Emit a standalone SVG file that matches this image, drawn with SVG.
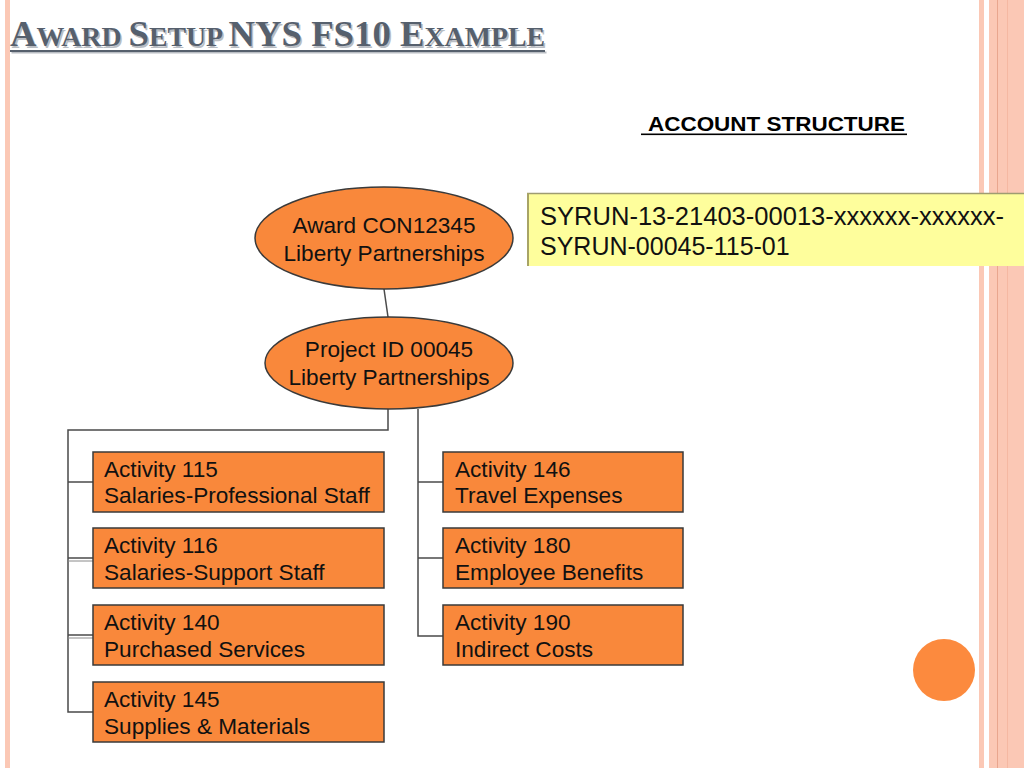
<svg xmlns="http://www.w3.org/2000/svg" width="1024" height="768" viewBox="0 0 1024 768">
<style>
.node{fill:#F9883B;stroke:#3a3a3a;stroke-width:1.5}
.lbl{font-family:"Liberation Sans",Arial,sans-serif;font-size:22.6px;fill:#111}
.con{fill:none;stroke:#4a4a4a;stroke-width:1.5}
.ttl{font-family:"Liberation Serif","Times New Roman",serif;font-weight:bold}
.pink{fill:#FBC8B5}
</style>
<rect width="1024" height="768" fill="#ffffff"/>
<!-- left stripe -->
<rect x="5" y="0" width="5" height="768" class="pink"/>
<!-- right stripes -->
<rect x="979" y="0" width="5" height="768" class="pink"/>
<rect x="989" y="0" width="35" height="768" class="pink"/>
<line x1="997.5" y1="0" x2="997.5" y2="768" stroke="#E9A68E" stroke-width="1"/>
<line x1="1007.5" y1="0" x2="1007.5" y2="768" stroke="#F5B8A2" stroke-width="1"/>
<!-- title -->
<g id="title">
<text x="11.5" y="47.5" class="ttl" fill="#B9BDC3" textLength="535" lengthAdjust="spacingAndGlyphs"><tspan font-size="35">A</tspan><tspan font-size="26.5">WARD </tspan><tspan font-size="35">S</tspan><tspan font-size="26.5">ETUP </tspan><tspan font-size="35">NYS FS10 E</tspan><tspan font-size="26.5">XAMPLE</tspan></text>
<text x="10" y="46" class="ttl" fill="#56606D" textLength="535" lengthAdjust="spacingAndGlyphs"><tspan font-size="35">A</tspan><tspan font-size="26.5">WARD </tspan><tspan font-size="35">S</tspan><tspan font-size="26.5">ETUP </tspan><tspan font-size="35">NYS FS10 E</tspan><tspan font-size="26.5">XAMPLE</tspan></text>
<rect x="11.5" y="51.5" width="535" height="2" fill="#B9BDC3"/>
<rect x="10" y="50" width="535" height="2" fill="#56606D"/>
</g>
<!-- account structure label -->
<g id="account-structure">
<text x="648" y="131" font-family="Liberation Sans,Arial,sans-serif" font-weight="bold" font-size="21" fill="#000" textLength="257" lengthAdjust="spacingAndGlyphs">ACCOUNT STRUCTURE</text>
<rect x="641" y="133.5" width="266" height="1.6" fill="#000"/>
</g>
<!-- yellow account box -->
<g id="account-box">
<rect x="527" y="193" width="497" height="73" fill="#FEFE9C"/>
<line x1="527" y1="193.5" x2="1024" y2="193.5" stroke="#9E9C72" stroke-width="1.5"/>
<line x1="528" y1="193" x2="528" y2="266" stroke="#A8A466" stroke-width="2"/>
<text x="540" y="225" font-family="Liberation Sans,Arial,sans-serif" font-size="25" fill="#111" textLength="464" lengthAdjust="spacingAndGlyphs">SYRUN-13-21403-00013-xxxxxx-xxxxxx-</text>
<text x="540" y="255" font-family="Liberation Sans,Arial,sans-serif" font-size="25" fill="#111">SYRUN-00045-115-01</text>
</g>
<!-- connectors -->
<g id="connectors">
<line x1="384" y1="289" x2="388" y2="317" class="con"/>
<polyline points="388,409 388,430 68,430 68,712 93,712" class="con"/>
<line x1="68" y1="482" x2="93" y2="482" class="con"/>
<line x1="68" y1="558" x2="93" y2="558" class="con"/>
<line x1="68" y1="561" x2="93" y2="561" stroke="#8a8a8a" stroke-width="1"/>
<line x1="68" y1="635" x2="93" y2="635" class="con"/>
<line x1="68" y1="638" x2="93" y2="638" stroke="#8a8a8a" stroke-width="1"/>
<polyline points="418,409 418,636 443,636" class="con"/>
<line x1="418" y1="482" x2="443" y2="482" class="con"/>
<line x1="418" y1="558" x2="443" y2="558" class="con"/>
</g>
<!-- nodes -->
<g id="award">
<ellipse cx="384" cy="238" rx="129" ry="51" class="node"/>
<text x="384" y="233" class="lbl" text-anchor="middle">Award CON12345</text>
<text x="384" y="261" class="lbl" text-anchor="middle">Liberty Partnerships</text>
</g>
<g id="project">
<ellipse cx="389" cy="363" rx="124" ry="46" class="node"/>
<text x="389" y="357" class="lbl" text-anchor="middle">Project ID 00045</text>
<text x="389" y="385" class="lbl" text-anchor="middle">Liberty Partnerships</text>
</g>
<g id="act115">
<rect x="93" y="452" width="291" height="60" class="node"/>
<text x="104" y="477" class="lbl">Activity 115</text>
<text x="104" y="503" class="lbl">Salaries-Professional Staff</text>
</g>
<g id="act116">
<rect x="93" y="528" width="291" height="60" class="node"/>
<text x="104" y="553" class="lbl">Activity 116</text>
<text x="104" y="580" class="lbl">Salaries-Support Staff</text>
</g>
<g id="act140">
<rect x="93" y="605" width="291" height="60" class="node"/>
<text x="104" y="630" class="lbl">Activity 140</text>
<text x="104" y="657" class="lbl">Purchased Services</text>
</g>
<g id="act145">
<rect x="93" y="682" width="291" height="60" class="node"/>
<text x="104" y="707" class="lbl">Activity 145</text>
<text x="104" y="734" class="lbl">Supplies &amp; Materials</text>
</g>
<g id="act146">
<rect x="443" y="452" width="240" height="60" class="node"/>
<text x="455" y="477" class="lbl">Activity 146</text>
<text x="455" y="503" class="lbl">Travel Expenses</text>
</g>
<g id="act180">
<rect x="443" y="528" width="240" height="60" class="node"/>
<text x="455" y="553" class="lbl">Activity 180</text>
<text x="455" y="580" class="lbl">Employee Benefits</text>
</g>
<g id="act190">
<rect x="443" y="605" width="240" height="60" class="node"/>
<text x="455" y="630" class="lbl">Activity 190</text>
<text x="455" y="657" class="lbl">Indirect Costs</text>
</g>
<!-- decorative circle -->
<circle cx="944" cy="670" r="31" fill="#FC8A3E"/>
</svg>
